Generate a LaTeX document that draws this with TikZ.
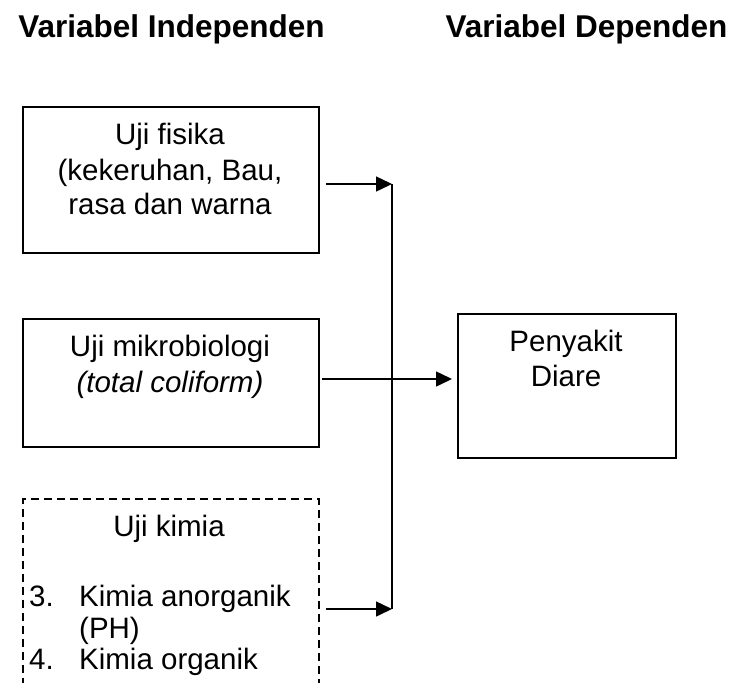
\documentclass[tikz,border=0pt]{standalone}
\usepackage{fontspec}
\setmainfont{Liberation Sans}
\usetikzlibrary{arrows.meta}
\tikzset{
  boxnode/.style={draw, line width=1.5pt, rectangle, inner sep=0pt, anchor=north west},
  dashbox/.style={boxnode, dash pattern=on 8pt off 5pt},
  txt/.style={inner sep=0pt, anchor=base, font=\fontsize{29.5}{35}\selectfont},
  txtl/.style={txt, anchor=base west},
  head/.style={inner sep=0pt, anchor=base, font=\fontsize{31.5}{38}\selectfont\bfseries},
  arr/.style={line width=1.5pt, -{Triangle[length=16pt,width=15pt]}},
  busline/.style={line width=1.5pt}
}
\begin{document}
\begin{tikzpicture}[x=1pt,y=-1pt]
\useasboundingbox (0,0) rectangle (734,683);
\clip (0,0) rectangle (734,683);
% headers
\node[head] (h1) at (171.5,37) {Variabel Independen};
\node[head] (h2) at (586.5,37) {Variabel Dependen};
% box 1
\node[boxnode, minimum width=296pt, minimum height=146pt] (b1) at (22,106) {};
\node[txt] (t1a) at (170,144) {Uji fisika};
\node[txt] (t1b) at (170,180) {(kekeruhan, Bau,};
\node[txt] (t1c) at (170,214) {rasa dan warna};
% box 2
\node[boxnode, minimum width=296pt, minimum height=128pt] (b2) at (22,318) {};
\node[txt] (t2a) at (170,356) {Uji mikrobiologi};
\node[txt] (t2b) at (170,392) {\itshape (total coliform)};
% box 3 (dashed, cut off)
\node[dashbox, minimum width=296pt, minimum height=230pt] (b3) at (22,498) {};
\node[txt] (t3a) at (169,536) {Uji kimia};
\node[txtl] (t3b) at (29,606) {3.};
\node[txtl] (t3c) at (79,606) {Kimia anorganik};
\node[txtl] (t3d) at (79,638) {(PH)};
\node[txtl] (t3e) at (29,669) {4.};
\node[txtl] (t3f) at (79,669) {Kimia organik};
% dependent box
\node[boxnode, minimum width=218pt, minimum height=144pt] (bp) at (457,313) {};
\node[txt] (tpa) at (566,351) {Penyakit};
\node[txt] (tpb) at (566,386) {Diare};
% connectors
\coordinate (s1) at (326,184);
\coordinate (s2) at (322,379);
\coordinate (s3) at (326,609);
\coordinate (bus1) at (392,184);
\coordinate (bus3) at (392,609);
\coordinate (e2) at (452,379);
\draw[busline] (bus1) -- (bus3);
\draw[arr] (s1) -- (bus1);
\draw[arr] (s2) -- (e2);
\draw[arr] (s3) -- (bus3);
\end{tikzpicture}
\end{document}
